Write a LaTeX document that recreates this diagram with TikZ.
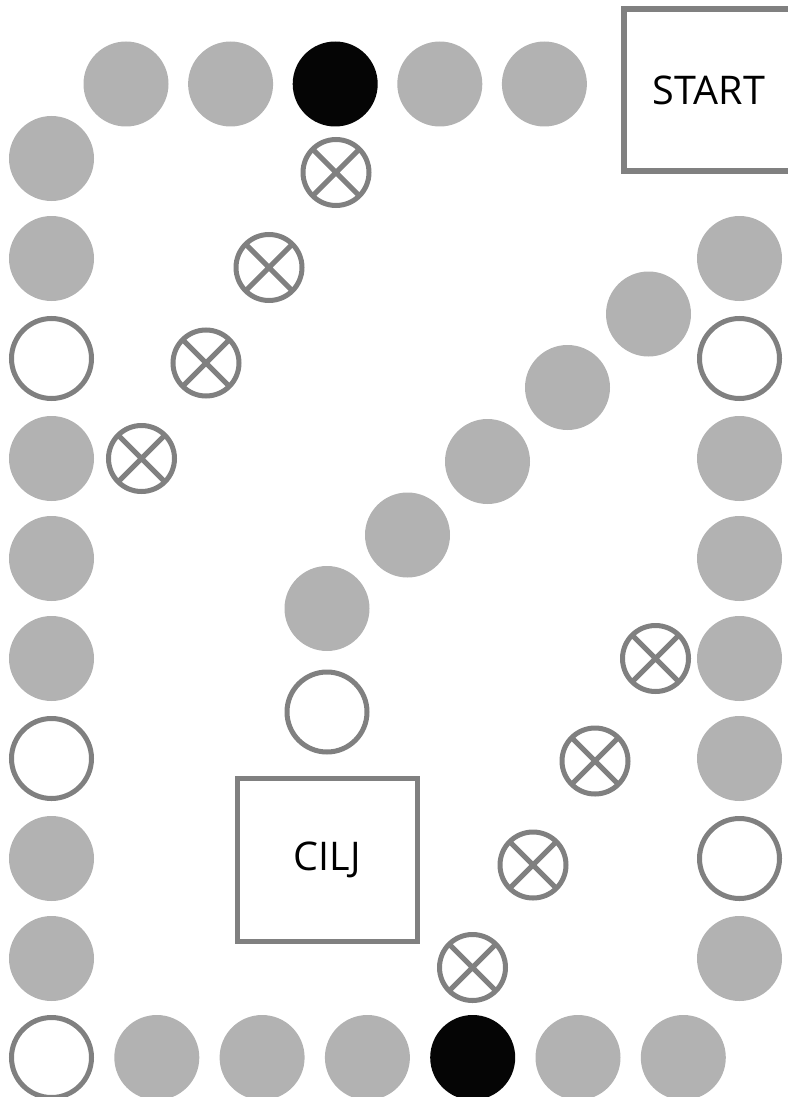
\documentclass[tikz,border=0pt]{standalone}
\usepackage{fontspec}
\setmainfont{Open Sans}
\definecolor{tokengray}{RGB}{178,178,178}
\definecolor{rimgray}{RGB}{128,128,128}
\definecolor{tokenblack}{RGB}{5,5,5}
\tikzset{
  token/.style={circle, inner sep=0pt, minimum size=85pt, fill=tokengray},
  dark/.style={token, fill=tokenblack},
  hollow/.style={circle, inner sep=0pt, minimum size=80pt, draw=rimgray, line width=5pt, fill=white},
  trap/.style={circle, inner sep=0pt, minimum size=66pt, draw=rimgray, line width=5pt,
    path picture={\draw[rimgray, line width=5pt]
      (path picture bounding box.north west) -- (path picture bounding box.south east)
      (path picture bounding box.north east) -- (path picture bounding box.south west);}},
  field/.style={rectangle, draw=rimgray, inner sep=0pt, text=black,
    font=\fontsize{39.5}{40}\selectfont}
}
\begin{document}
\begin{tikzpicture}[x=1pt, y=-1pt]
  \useasboundingbox (0,0) rectangle (787,1097);

  % start and goal fields
  \node[field, line width=6pt, minimum width=171pt, minimum height=161.5pt] (start) at (709,90.25) {START};
  \node[field, line width=5pt, minimum width=179.5pt, minimum height=163pt] (goal) at (327.25,860) {CILJ};

  % top row
  \node[token]  (t1) at (126,84) {};
  \node[token]  (t2) at (230.6,84) {};
  \node[dark]   (t3) at (335.2,84) {};
  \node[token]  (t4) at (439.8,84) {};
  \node[token]  (t5) at (544.4,84) {};

  % left column
  \node[token]  (l1) at (51.5,158.5) {};
  \node[token]  (l2) at (51.5,258.5) {};
  \node[hollow] (l3) at (51.5,358.5) {};
  \node[token]  (l4) at (51.5,458.5) {};
  \node[token]  (l5) at (51.5,558.5) {};
  \node[token]  (l6) at (51.5,658.5) {};
  \node[hollow] (l7) at (51.5,758.5) {};
  \node[token]  (l8) at (51.5,858.5) {};
  \node[token]  (l9) at (51.5,958.5) {};

  % bottom row
  \node[hollow] (b1) at (51.5,1057.5) {};
  \node[token]  (b2) at (156.8,1057.5) {};
  \node[token]  (b3) at (262.1,1057.5) {};
  \node[token]  (b4) at (367.4,1057.5) {};
  \node[dark]   (b5) at (472.7,1057.5) {};
  \node[token]  (b6) at (578,1057.5) {};
  \node[token]  (b7) at (683.3,1057.5) {};

  % right column
  \node[token]  (r1) at (739.5,258.5) {};
  \node[hollow] (r2) at (739.5,358.5) {};
  \node[token]  (r3) at (739.5,458.5) {};
  \node[token]  (r4) at (739.5,558.5) {};
  \node[token]  (r5) at (739.5,658.5) {};
  \node[token]  (r6) at (739.5,758.5) {};
  \node[hollow] (r7) at (739.5,858.5) {};
  \node[token]  (r8) at (739.5,958.5) {};

  % diagonal path towards the goal
  \node[token]  (d1) at (648.5,314) {};
  \node[token]  (d2) at (567.5,387.5) {};
  \node[token]  (d3) at (487.5,461.5) {};
  \node[token]  (d4) at (407.5,535) {};
  \node[token]  (d5) at (327,608.5) {};
  \node[hollow] (d6) at (327,712) {};

  % crossed traps, upper left chain
  \node[trap] (ua) at (336,172.5) {};
  \node[trap] (ub) at (269,267.5) {};
  \node[trap] (uc) at (206,363) {};
  \node[trap] (ud) at (141.5,458.5) {};

  % crossed traps, lower right chain
  \node[trap] (va) at (655.5,658.5) {};
  \node[trap] (vb) at (595,761) {};
  \node[trap] (vc) at (533,865) {};
  \node[trap] (vd) at (472.5,967.5) {};
\end{tikzpicture}
\end{document}
